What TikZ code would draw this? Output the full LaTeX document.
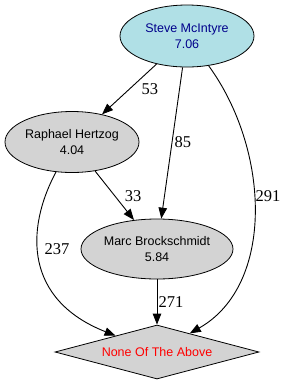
\documentclass[tikz,border=0pt]{standalone}
\usepackage{fontspec}
\setmainfont{Liberation Serif}
\newfontfamily\nodefont{Liberation Sans}
\usetikzlibrary{shapes.geometric,arrows.meta}
\definecolor{powder}{RGB}{176,224,230}
\definecolor{lgray}{RGB}{211,211,211}
\definecolor{dblue}{RGB}{0,0,139}
\begin{document}
\begin{tikzpicture}[x=1pt,y=-1pt,
  person/.style={ellipse,draw=black,line width=0.8pt,fill=lgray,inner sep=0pt,align=center,
    font=\nodefont\fontsize{12.5}{16}\selectfont},
  target/.style={diamond,draw=black,line width=0.8pt,fill=lgray,inner sep=0pt,aspect=3.78,
    minimum width=204pt,minimum height=54pt,text=red,font=\nodefont\fontsize{12.5}{16}\selectfont},
  edge/.style={draw=black,line width=0.9pt,-{Triangle[length=11pt,width=8.5pt]}},
  elabel/.style={font=\fontsize{16.5}{18}\selectfont,inner sep=0pt}
]
\useasboundingbox (0,0) rectangle (287,384);
\node[person,fill=powder,text=dblue,minimum width=134pt,minimum height=62pt] (s) at (187,36) {Steve McIntyre\\7.06};
\node[person,minimum width=134pt,minimum height=61pt] (r) at (72,142) {Raphael Hertzog\\4.04};
\node[person,minimum width=152pt,minimum height=60pt] (m) at (157,249) {Marc Brockschmidt\\5.84};
\node[target] (n) at (157,352) {None Of The Above};

\draw[edge] (s) -- (r);
\draw[edge] (s) -- (m);
\draw[edge] (s) .. controls (270,150) and (275,285) .. (n);
\draw[edge] (r) -- (m);
\draw[edge] (r) .. controls (25,230) and (25,300) .. (n);
\draw[edge] (m) -- (n);

\node[elabel] (l53) at (150,89) {53};
\node[elabel] (l85) at (183,142) {85};
\node[elabel] (l291) at (268,196) {291};
\node[elabel] (l33) at (133,196) {33};
\node[elabel] (l237) at (57,249) {237};
\node[elabel] (l271) at (171,302) {271};
\end{tikzpicture}
\end{document}
